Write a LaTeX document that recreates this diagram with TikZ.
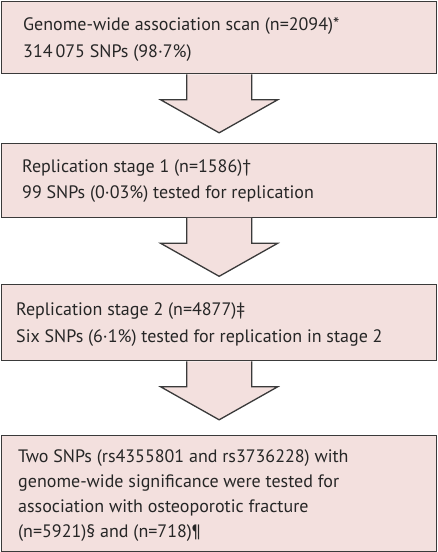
\documentclass[tikz,border=0pt]{standalone}
\usepackage{fontspec}
\setmainfont{PT Sans}
\usetikzlibrary{calc}
\definecolor{boxfill}{HTML}{F3E0DE}
\definecolor{boxline}{HTML}{3A3A3A}
\tikzset{
  x=1pt, y=-1pt,
  stagebox/.style={draw=boxline, fill=boxfill, line width=1.3pt, inner sep=0pt, minimum width=435pt, anchor=north west},
  txt/.style={anchor=base west, inner sep=0pt, font=\fontsize{18}{22}\selectfont, text=black!85},
  flowarrow/.style={draw=boxline, fill=boxfill, line width=1.3pt, line join=miter},
}
\begin{document}
\begin{tikzpicture}
\useasboundingbox (0,0) rectangle (437,552);
\node[stagebox, minimum height=72pt] (b1) at (1,1) {};
\node[stagebox, minimum height=74pt] (b2) at (1,142.5) {};
\node[stagebox, minimum height=76pt] (b3) at (1,284) {};
\node[stagebox, minimum height=116pt] (b4) at (1,434.5) {};
\node[txt] (t1a) at (23,30) {Genome-wide association scan (n=2094)*};
\node[txt] (t1b) at (23,57) {314\,075 SNPs (98·7\%)};
\node[txt] (t2a) at (22,172) {Replication stage 1 (n=1586)†};
\node[txt] (t2b) at (22,198) {99 SNPs (0·03\%) tested for replication};
\node[txt] (t3a) at (16,315) {Replication stage 2 (n=4877)‡};
\node[txt] (t3b) at (16,342) {Six SNPs (6·1\%) tested for replication in stage 2};
\node[txt] (t4a) at (18,462) {Two SNPs (rs4355801 and rs3736228) with};
\node[txt] (t4b) at (18,487) {genome-wide significance were tested for};
\node[txt] (t4c) at (18,512) {association with osteoporotic fracture};
\node[txt] (t4d) at (18,537) {(n=5921)§ and (n=718)¶};
\foreach \a/\b in {b1/b2,b2/b3,b3/b4}{
  \path[flowarrow] ($(\a.south)+(-32.5,0)$) -- ($(\a.south)+(-32.5,25.5)$) -- ($(\a.south)+(-58.5,25.5)$)
    -- ($(\a.south)+(0,58.5)$) -- ($(\a.south)+(58.5,25.5)$) -- ($(\a.south)+(32.5,25.5)$) -- ($(\a.south)+(32.5,0)$);
}
\end{tikzpicture}
\end{document}
